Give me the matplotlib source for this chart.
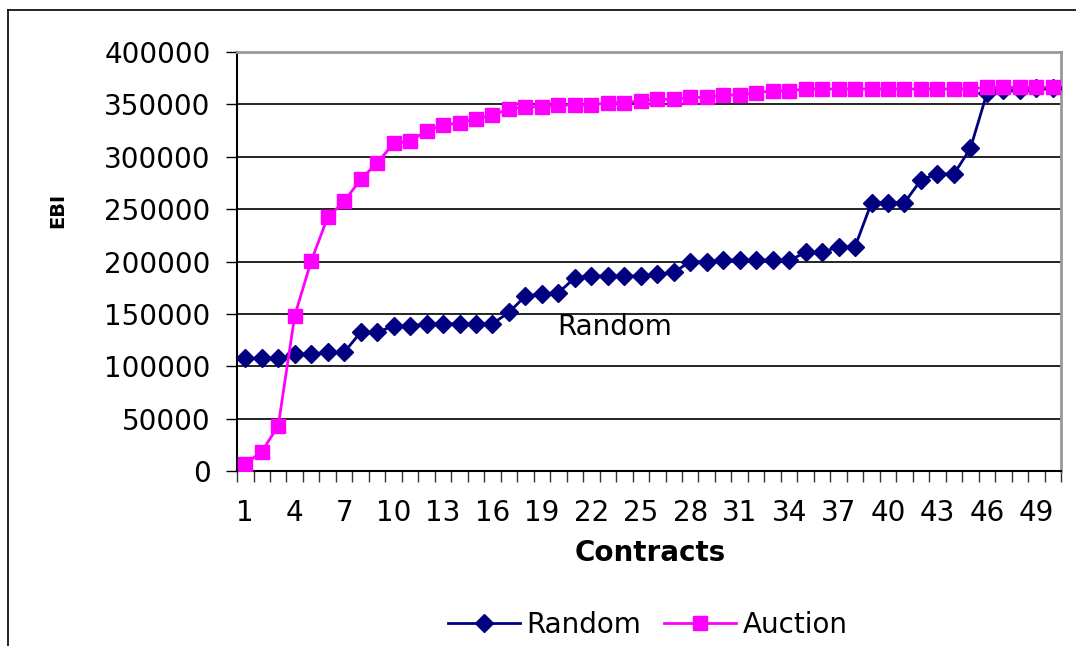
import matplotlib.pyplot as plt
import numpy as np

plt.rcParams['font.family'] = ['DejaVu Sans']

contracts = list(range(1, 51))

random_ebi = [107600, 107600, 107600, 111700, 111700, 113300, 113300, 132400, 132400, 138400,
              138400, 140600, 140600, 140600, 140600, 140600, 151500, 167100, 169000, 170200,
              184500, 186100, 186100, 186100, 186100, 187700, 189700, 199800, 199800, 201400,
              201400, 201400, 201400, 201000, 208700, 208700, 214100, 214100, 256200, 256200,
              256200, 277800, 283500, 283500, 308000, 360500, 363700, 363700, 365300, 365300]

auction_ebi = [6700, 18400, 43200, 148300, 200500, 242200, 257400, 278400, 294000, 312800,
               314700, 324900, 330000, 332500, 336000, 339800, 345400, 347700, 347700, 349400,
               349400, 349400, 351600, 351600, 353500, 354800, 354800, 356700, 356700, 358900,
               358900, 361100, 363000, 363000, 364700, 364700, 364700, 364700, 364700, 364700,
               364700, 364700, 364700, 364700, 364700, 366300, 366300, 366300, 366300, 366300]

x_labels = [str(c) for c in contracts[::3]]
y_ticks = list(range(0, 400001, 50000))

FS = 20

fig = plt.figure(figsize=(10.76, 6.46), dpi=100)
ax = fig.add_axes([0.2203, 0.2709, 0.7658, 0.6486])

for yt in y_ticks[1:-1]:
    ax.axhline(yt, color='black', linewidth=1.2, zorder=1)

ax.plot(contracts, random_ebi, color='#000080', marker='D', markersize=9,
        linewidth=2, label='Random', zorder=3)
ax.plot(contracts, auction_ebi, color='#FF00FF', marker='s', markersize=10,
        linewidth=2, label='Auction', zorder=4)

ax.set_xlim(0.5, 50.5)
ax.set_ylim(0, 400000)
ax.set_yticks(y_ticks)
ax.set_yticklabels([str(v) for v in y_ticks], fontsize=FS)
ax.set_xticks(contracts[::3])
ax.set_xticklabels(x_labels, fontsize=FS)
ax.set_xticks(np.arange(0.5, 51, 1), minor=True)
ax.tick_params(axis='x', which='major', length=0, pad=20)
ax.tick_params(axis='x', which='minor', length=8, width=1, direction='out', color='#333333')
ax.tick_params(axis='y', length=8, width=1, direction='out', pad=11)

ax.spines['left'].set_color('black')
ax.spines['left'].set_linewidth(1.5)
ax.spines['bottom'].set_color('black')
ax.spines['bottom'].set_linewidth(1.5)
ax.spines['top'].set_color('#999999')
ax.spines['top'].set_linewidth(2)
ax.spines['right'].set_color('#999999')
ax.spines['right'].set_linewidth(2)

ax.text(19.9, 137500, 'Random', fontsize=FS, ha='left', va='center')

fig.text(650 / 1076, 1 - 553 / 646, 'Contracts', fontsize=FS, fontweight='bold',
         ha='center', va='center')
fig.text(58 / 1076, 1 - 210 / 646, 'EBI', fontsize=14, fontweight='bold',
         rotation=90, ha='center', va='center')

fig.legend(loc='center', bbox_to_anchor=(0.602, 0.033), ncol=2, frameon=False,
           fontsize=FS, handlelength=2.6, columnspacing=0.8, handletextpad=0.25)

# outer chart frame (cut at right and bottom like the original)
fig.add_artist(plt.Line2D([8 / 1076, 1], [1 - 10 / 646] * 2, color='black', linewidth=1.2))
fig.add_artist(plt.Line2D([8 / 1076] * 2, [0, 1 - 10 / 646], color='black', linewidth=1.2))

fig.savefig('out.png', dpi=100)
